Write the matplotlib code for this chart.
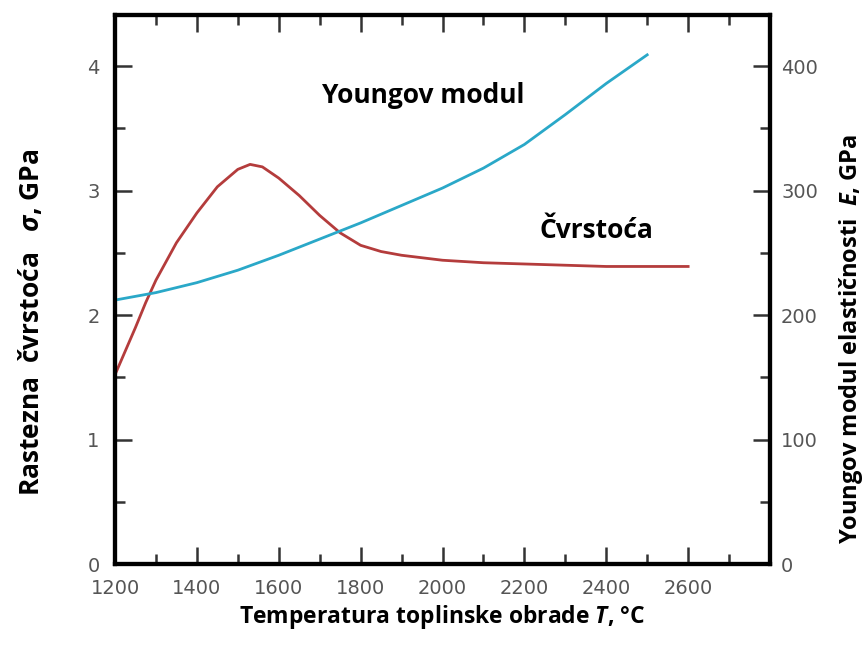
import matplotlib.pyplot as plt
from matplotlib.ticker import MultipleLocator

# Cvrstoca (tensile strength, GPa) vs heat treatment temperature
temp_strength = [1200, 1225, 1250, 1275, 1300, 1350, 1400, 1450, 1500, 1530, 1560,
                 1600, 1650, 1700, 1750, 1800, 1850, 1900, 2000, 2100, 2200,
                 2300, 2400, 2500, 2600]
strength = [1.52, 1.71, 1.90, 2.10, 2.28, 2.58, 2.82, 3.03, 3.17, 3.21, 3.19,
            3.10, 2.96, 2.80, 2.66, 2.56, 2.51, 2.48, 2.44, 2.42, 2.41,
            2.40, 2.39, 2.39, 2.39]

# Youngov modul (GPa)
temp_modulus = [1200, 1300, 1400, 1500, 1600, 1700, 1800, 1900, 2000, 2100,
                2200, 2300, 2400, 2500]
modulus = [212, 218, 226, 236, 248, 261, 274, 288, 302, 318,
           337, 361, 386, 409]

x_ticks = [1200, 1400, 1600, 1800, 2000, 2200, 2400, 2600]
x_tick_labels = ['1200', '1400', '1600', '1800', '2000', '2200', '2400', '2600']
left_ticks = [0, 1, 2, 3, 4]
right_ticks = [0, 100, 200, 300, 400]

plt.rcParams['font.family'] = ['Open Sans', 'DejaVu Sans']
plt.rcParams['mathtext.fontset'] = 'custom'
plt.rcParams['mathtext.it'] = 'Open Sans:italic:bold'
plt.rcParams['mathtext.rm'] = 'Open Sans:bold'

red = '#b43c3c'
blue = '#2aa8c8'
tick_font = 'DejaVu Sans'

fig = plt.figure(figsize=(8.67, 6.48), dpi=100)
ax = fig.add_axes([115 / 867, 1 - 564 / 648, 655 / 867, 549 / 648])
ax2 = ax.twinx()

ax.plot(temp_strength, strength, color=red, lw=2)
ax2.plot(temp_modulus, modulus, color=blue, lw=2)

ax.set_xlim(1200, 2800)
ax.set_ylim(0, 4.41)
ax2.set_ylim(0, 441)

ax.set_xticks(x_ticks)
ax.set_xticklabels(x_tick_labels, fontfamily=tick_font)
ax.xaxis.set_minor_locator(MultipleLocator(100))
ax.set_yticks(left_ticks)
ax.set_yticklabels([str(v) for v in left_ticks], fontfamily=tick_font)
ax.yaxis.set_minor_locator(MultipleLocator(0.5))
ax2.set_yticks(right_ticks)
ax2.set_yticklabels([str(v) for v in right_ticks], fontfamily=tick_font)
ax2.yaxis.set_minor_locator(MultipleLocator(50))

for a in (ax, ax2):
    for s in a.spines.values():
        s.set_linewidth(3)
        s.set_color('black')

ax.tick_params(which='both', direction='in', top=True, right=False,
               width=1.8, color='#333333', labelsize=14, labelcolor='#555555')
ax.tick_params(which='major', length=12)
ax.tick_params(which='minor', length=7)
ax.tick_params(axis='x', pad=11)
ax.tick_params(axis='y', pad=11)
ax2.tick_params(which='both', direction='in', left=False, right=True,
                width=1.8, color='#333333', labelsize=14, labelcolor='#555555',
                pad=8)
ax2.tick_params(which='major', length=12)
ax2.tick_params(which='minor', length=7)

ax.set_xlabel('Temperatura toplinske obrade $T$, °C', fontsize=16.5,
              fontweight='bold')
ax.xaxis.set_label_coords(0.5, -0.071)
ax.set_ylabel('Rastezna  čvrstoća   $σ$, GPa', fontsize=19, fontweight='bold')
ax.yaxis.set_label_coords(-0.107, 0.44)
ax2.set_ylabel('Youngov modul elastičnosti  $E$, GPa', fontsize=17,
               fontweight='bold')
ax2.yaxis.set_label_coords(1.102, 0.41)

ax.text(1705, 3.70, 'Youngov modul', fontsize=19, fontweight='bold')
ax.text(2238, 2.62, 'Čvrstoća', fontsize=19, fontweight='bold')

plt.savefig('out.png', dpi=100)
